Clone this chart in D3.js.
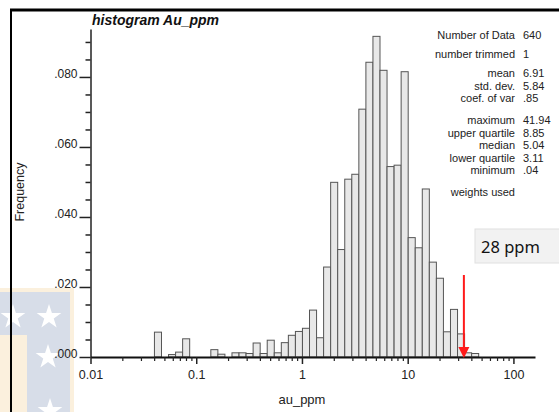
<!DOCTYPE html>
<html><head><meta charset="utf-8">
<script src="https://cdn.jsdelivr.net/npm/d3@7"></script>
<style>
html,body{margin:0;padding:0;background:#fff;}
svg{display:block;font-family:"Liberation Sans",Arial,sans-serif;}
</style></head><body>
<svg id="chart" width="559" height="412"></svg>
<script>
// Log-spaced bin edges (ppm), 15 bins per decade
const binEdges = [0.039811,0.046416,0.054117,0.063096,0.073564,0.085770,0.1,0.116591,0.135936,0.158489,
  0.184785,0.215443,0.251189,0.292864,0.341455,0.398107,0.464159,0.541170,0.630957,0.735642,
  0.857696,1,1.16591,1.35936,1.58489,1.84785,2.15443,2.51189,2.92864,3.41455,
  3.98107,4.64159,5.41170,6.30957,7.35642,8.57696,10,11.6591,13.5936,15.8489,
  18.4785,21.5443,25.1189,29.2864,34.1455,39.8107,46.4159];
const frequencies = [0.0071,0,0.0007,0.0014,0.0052,0,0,0,0.0021,0.0008,
  0,0.0012,0.0012,0.0010,0.0040,0.0010,0.0048,0.0012,0.0041,0.0062,
  0.0073,0.0082,0.0134,0.0055,0.0257,0.0499,0.0307,0.0508,0.0522,0.0708,
  0.0842,0.0916,0.0819,0.0544,0.0548,0.0815,0.0341,0.0312,0.0480,0.0271,
  0.0225,0.0072,0.0136,0.0066,0.0012,0.0010];
const yTickValues = [0,0.02,0.04,0.06,0.08];
const yTickLabels = [".000",".020",".040",".060",".080"];
const yMinorTicks = [0.005,0.01,0.015,0.025,0.03,0.035,0.045,0.05,0.055,0.065,0.07,0.075,0.085,0.09];
const xTickValues = [0.01,0.1,1,10,100];
const xTickLabels = ["0.01","0.1","1","10","100"];
const xMinorTicks = [0.02,0.03,0.04,0.05,0.06,0.07,0.08,0.09,0.2,0.3,0.4,0.5,0.6,0.7,0.8,0.9,
  2,3,4,5,6,7,8,9,20,30,40,50,60,70,80,90];
const statLabels = ["Number of Data","number trimmed","mean","std. dev.","coef. of var","maximum","upper quartile","median","lower quartile","minimum","weights used"];
const statValues = ["640","1","6.91","5.84",".85","41.94","8.85","5.04","3.11",".04",""];
const statRows = [39,58,77,89.5,102,124,136.5,149,161.5,174,196];
const titleText = "histogram Au_ppm";
const xLabel = "au_ppm";
const yLabel = "Frequency";
const arrowValue = 34;
const annotationText = "28 ppm";

const svg = d3.select("#chart");

// watermark (bottom-left)
const wm = svg.append("g");
wm.append("rect").attr("x",0).attr("y",288).attr("width",74).attr("height",124).attr("fill","#fbf0dd");
wm.append("rect").attr("x",0).attr("y",292).attr("width",70).attr("height",120).attr("fill","#d7dde8");
wm.append("rect").attr("x",0).attr("y",335).attr("width",27).attr("height",77).attr("fill","#fbf0dd");
const starPath = d3.symbol().type(d3.symbolStar).size(190)();
[[13,317],[49,317],[48,357],[50,411]].forEach(p=>{
  wm.append("path").attr("d",starPath).attr("transform",`translate(${p[0]},${p[1]})`).attr("fill","#ffffff");
});

// frame lines
svg.append("line").attr("x1",10).attr("x2",559).attr("y1",10).attr("y2",10).attr("stroke","#000").attr("stroke-width",3);
svg.append("line").attr("x1",11).attr("x2",11).attr("y1",9).attr("y2",412).attr("stroke","#000").attr("stroke-width",2);

const x = d3.scaleLog().domain([0.01,160]).range([90.5,535]);
const y = d3.scaleLinear().domain([0,0.0937]).range([357,29]);

// bars
const bars = frequencies.map((f,i)=>({lo:binEdges[i],hi:binEdges[i+1],f})).filter(d=>d.f>0);
svg.append("g").selectAll("rect").data(bars).join("rect")
  .attr("x",d=>x(d.lo)+0.5)
  .attr("width",d=>x(d.hi)-x(d.lo))
  .attr("y",d=>y(d.f))
  .attr("height",d=>y(0)-y(d.f))
  .attr("fill","#e8e8e8").attr("stroke","#555").attr("stroke-width",1);

// y axis
const yAxis = d3.axisLeft(y).tickValues(yTickValues).tickFormat((d,i)=>yTickLabels[i]).tickSize(11).tickPadding(2).tickSizeOuter(0);
const gy = svg.append("g").attr("transform","translate(90.5,0)").call(yAxis);
gy.select(".domain").attr("stroke","#222").attr("stroke-width",1.5);
gy.selectAll(".tick line").attr("stroke","#222").attr("stroke-width",1.5);
gy.selectAll(".tick text").attr("font-size",12).attr("font-family","Liberation Sans, Arial, sans-serif").attr("fill","#222").attr("dy","0.05em");
const gym = svg.append("g").attr("transform","translate(90.5,0)")
  .call(d3.axisLeft(y).tickValues(yMinorTicks).tickFormat("").tickSize(5).tickSizeOuter(0));
gym.select(".domain").remove();
gym.selectAll(".tick line").attr("stroke","#222").attr("stroke-width",1.5);

// x axis
const xAxis = d3.axisBottom(x).tickValues(xTickValues).tickFormat((d,i)=>xTickLabels[i]).tickSize(7).tickPadding(6).tickSizeOuter(0);
const gx = svg.append("g").attr("transform","translate(0,357)").call(xAxis);
gx.select(".domain").attr("stroke","#111").attr("stroke-width",2);
gx.selectAll(".tick line").attr("stroke","#222").attr("stroke-width",1.5);
gx.selectAll(".tick text").attr("font-size",12.5).attr("font-family","Liberation Sans, Arial, sans-serif").attr("fill","#222");
const gxm = svg.append("g").attr("transform","translate(0,357)")
  .call(d3.axisBottom(x).tickValues(xMinorTicks).tickFormat("").tickSize(4).tickSizeOuter(0));
gxm.select(".domain").remove();
gxm.selectAll(".tick line").attr("stroke","#222").attr("stroke-width",1.2);

// labels
svg.append("text").attr("x",92).attr("y",25).attr("font-size",14).attr("font-weight","bold").attr("font-style","italic").attr("fill","#111").text(titleText);
svg.append("text").attr("x",x(1)).attr("y",404).attr("text-anchor","middle").attr("font-size",13).attr("fill","#222").text(xLabel);
svg.append("text").attr("transform","translate(24,192) rotate(-90)").attr("text-anchor","middle").attr("font-size",12.5).attr("fill","#222").text(yLabel);

// stats block
const st = svg.append("g").attr("font-size",11).attr("fill","#222");
statLabels.forEach((l,i)=>{
  st.append("text").attr("x",515).attr("y",statRows[i]).attr("text-anchor","end").text(l);
  st.append("text").attr("x",523).attr("y",statRows[i]).text(statValues[i]);
});

// annotation box
svg.append("rect").attr("x",475).attr("y",229).attr("width",90).attr("height",34).attr("fill","#f2f2f2").attr("stroke","#e0e0e0");
svg.append("text").attr("x",481).attr("y",253).attr("font-family","Noto Sans, sans-serif").attr("font-size",16.5).attr("fill","#111").text(annotationText);

// red arrow
const ax = x(arrowValue);
svg.append("line").attr("x1",ax).attr("x2",ax).attr("y1",275).attr("y2",350).attr("stroke","#ff1a1a").attr("stroke-width",2);
svg.append("path").attr("d",`M${ax-5.5},347 L${ax+5.5},347 L${ax},358 Z`).attr("fill","#ff1a1a");
</script>
</body></html>
